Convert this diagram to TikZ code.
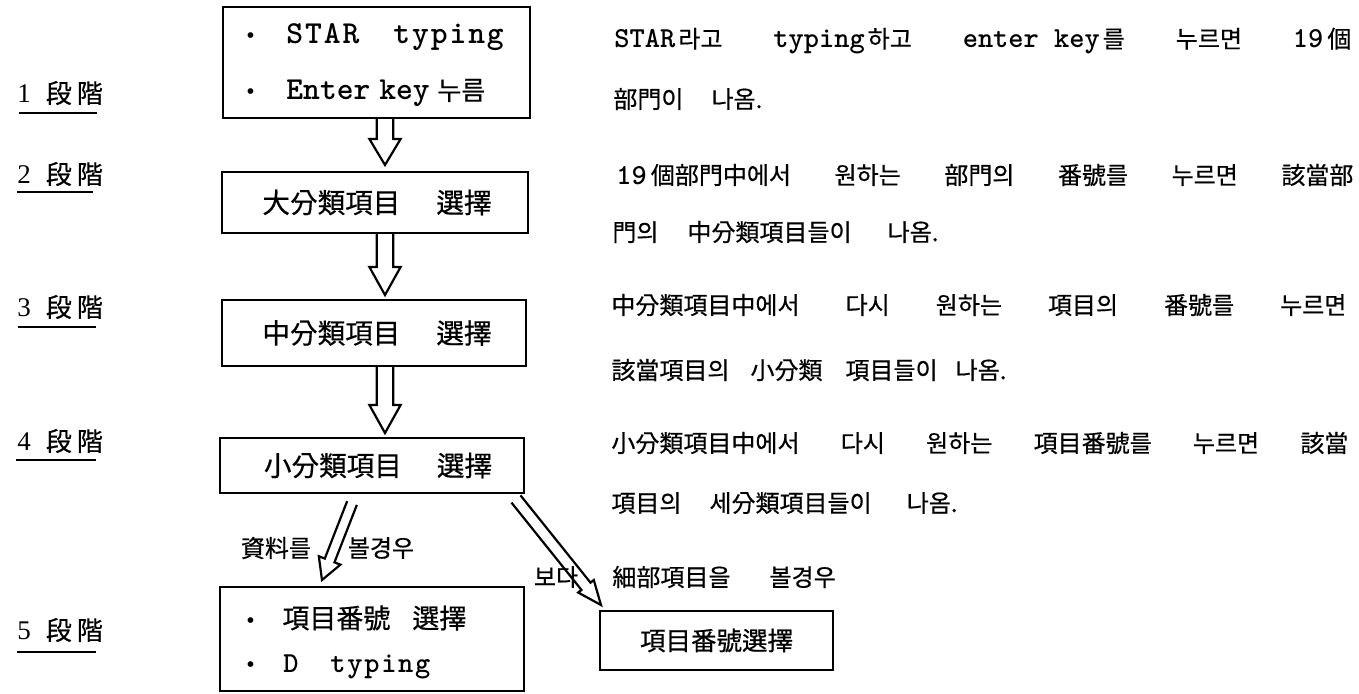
\documentclass[tikz,border=0pt]{standalone}
\usepackage{fontspec}
\setmainfont{Liberation Serif}
\newfontfamily\kr[FakeBold=0.5]{Noto Sans CJK KR}
\newfontfamily\tw[LetterSpace=6]{lmmonolt10-bold.otf}
\newfontfamily\twb{lmmonolt10-bold.otf}
\usetikzlibrary{calc}
\newcommand\hpx[1]{\hspace*{\dimexpr#1pt/2\relax}}
\newcommand\wpx[2]{\makebox[\dimexpr#1pt/2\relax][l]{#2}}
\newcommand\latw[1]{{\twb\fontsize{14.5}{16}\selectfont #1}}
\newcommand\hollowarr[5]{%
  \coordinate (hC) at ($(#2)!#5!(#1)$);
  \draw[harr] ($(#1)!#3!90:(#2)$) -- ($(hC)!#3!-90:(#1)$) -- ($(hC)!#4!-90:(#1)$) -- (#2)
    -- ($(hC)!#4!90:(#1)$) -- ($(hC)!#3!90:(#1)$) -- ($(#1)!#3!-90:(#2)$);
}
\begin{document}
\begin{tikzpicture}[x=0.5pt,y=-0.5pt,
  box/.style={draw, line width=1.2pt, inner sep=0pt, outer sep=0pt},
  harr/.style={line width=1.1pt, line join=miter},
  uline/.style={line width=1.1pt},
  lbl/.style={inner sep=0pt, anchor=west, font=\kr\fontsize{13}{15}\selectfont},
  dlbl/.style={inner sep=0pt, font=\kr\fontsize{12}{15}\selectfont},
  rt/.style={inner sep=0pt, anchor=west, font=\kr\fontsize{12}{15}\selectfont},
  bx/.style={font=\kr\fontsize{13.8}{16}\selectfont},
  tl/.style={inner sep=0pt, anchor=west}
]
\useasboundingbox[fill=white] (0,0) rectangle (1359,693);

% boxes
\node[box, minimum width=153.5pt, minimum height=55.5pt] (b1) at (376.5,62.5) {};
\node[box, bx, minimum width=153pt, minimum height=30.5pt] (b2) at (375,202.5) {\hpx{4}大分類項目\hpx{36}選擇};
\node[box, bx, minimum width=152pt, minimum height=33pt] (b3) at (374,333) {\hpx{6}中分類項目\hpx{36}選擇};
\node[box, bx, minimum width=152pt, minimum height=27.5pt] (b4) at (372,465.5) {\hpx{12}小分類項目\hpx{35}選擇};
\node[box, minimum width=152pt, minimum height=52pt] (b5) at (372,639) {};
\node[box, minimum width=116.5pt, minimum height=29.5pt, font=\kr\fontsize{12.75}{15}\selectfont] (b6) at (716.5,640.5) {項目番號選擇};

% box texts
\node[tl] (b1t1) at (246,37) {\wpx{40}{\fontsize{12}{14}\selectfont\textbullet}{\tw\fontsize{16}{18}\selectfont\wpx{107}{STAR}typing}};
\node[tl] (b1t2) at (246,93) {\wpx{40}{\fontsize{12}{14}\selectfont\textbullet}{\twb\fontsize{16}{18}\selectfont\wpx{93}{Enter}\wpx{58}{key}}{\kr\fontsize{13}{15}\selectfont 누름}};
\node[tl] (b5t1) at (246,618) {\wpx{36}{\fontsize{12}{14}\selectfont\textbullet}{\kr\fontsize{13.5}{15}\selectfont 項目番號\hpx{22}選擇}};
\node[tl] (b5t2) at (246,667) {\wpx{37}{\fontsize{12}{14}\selectfont\textbullet}{\tw\fontsize{14.5}{16}\selectfont\wpx{47}{D}typing}};

% left stage labels
\node[lbl] (l1) at (17,93) {{\rmfamily\fontsize{13.5}{15}\selectfont 1}\hpx{15}段\hpx{5}階};
\node[lbl] (l2) at (17,174) {{\rmfamily\fontsize{13.5}{15}\selectfont 2}\hpx{15}段\hpx{5}階};
\node[lbl] (l3) at (17,307) {{\rmfamily\fontsize{13.5}{15}\selectfont 3}\hpx{15}段\hpx{5}階};
\node[lbl] (l4) at (17,441) {{\rmfamily\fontsize{13.5}{15}\selectfont 4}\hpx{15}段\hpx{5}階};
\node[lbl] (l5) at (17,630) {{\rmfamily\fontsize{13.5}{15}\selectfont 5}\hpx{15}段\hpx{5}階};
\draw[uline] (19,113) -- (97,113);
\draw[uline] (17,192) -- (93,192);
\draw[uline] (18,327) -- (96,327);
\draw[uline] (16,460) -- (96,460);
\draw[uline] (17,652) -- (96,652);

% right text
\node[rt] (r1) at (614,41) {\makebox[368.5pt]{\latw{STAR}\hpx{3}라고\hfill\latw{typing}\hpx{3}하고\hfill\latw{enter key}\hpx{3}를\hfill 누르면\hfill\latw{19}\hpx{4}個}};
\node[rt] (r2) at (613,99) {部門이\hpx{28}나옴.};
\node[rt] (r3) at (616,175) {\makebox[368.5pt]{\latw{19}\hpx{4}個部門中에서\hfill 원하는\hfill 部門의\hfill 番號를\hfill 누르면\hfill 該當部}};
\node[rt] (r4) at (612,232) {門의\hpx{29}中分類項目들이\hpx{36}나옴.};
\node[rt] (r5) at (611,305) {\makebox[367.5pt]{中分類項目中에서\hfill 다시\hfill 원하는\hfill 項目의\hfill 番號를\hfill 누르면}};
\node[rt] (r6) at (611,370) {該當項目의\hpx{21}小分類\hpx{23}項目들이\hpx{18}나옴.};
\node[rt] (r7) at (611,443) {\makebox[368.5pt]{小分類項目中에서\hfill 다시\hfill 원하는\hfill 項目番號를\hfill 누르면\hfill 該當}};
\node[rt] (r8) at (611,503) {項目의\hpx{28}세分類項目들이\hpx{35}나옴.};

% arrow labels
\node[dlbl] (la) at (276,548) {資料를};
\node[dlbl] (lb) at (381,548) {볼경우};
\node[dlbl] (lc) at (556,577) {보다};
\node[dlbl, anchor=west] (ld) at (612,577) {細部項目을\hpx{39}볼경우};

% hollow arrows
\coordinate (ax) at (385,0);
\coordinate (a1s) at (b1.south -| ax);
\coordinate (a1e) at ($(b2.north -| ax)+(0,-7)$);
\coordinate (a2s) at (b2.south -| ax);
\coordinate (a2e) at ($(b3.north -| ax)+(0,-5)$);
\coordinate (a3s) at (b3.south -| ax);
\coordinate (a3e) at ($(b4.north -| ax)+(0,-5)$);
\hollowarr{a1s}{a1e}{4.1pt}{7.8pt}{13pt}
\hollowarr{a2s}{a2e}{4.1pt}{7.8pt}{14pt}
\hollowarr{a3s}{a3e}{4.1pt}{7.8pt}{14pt}

\coordinate (d1s) at ($(b4.south)+(-20,10)$);
\coordinate (d1e) at ($(b5.north)+(-50,-7)$);
\hollowarr{d1s}{d1e}{2.6pt}{5.8pt}{10.5pt}
\coordinate (d2s) at ($(b4.south east)+(-8,6)$);
\coordinate (d2e) at ($(b6.north west)+(1,-6)$);
\hollowarr{d2s}{d2e}{2.9pt}{5pt}{12pt}
\end{tikzpicture}
\end{document}
